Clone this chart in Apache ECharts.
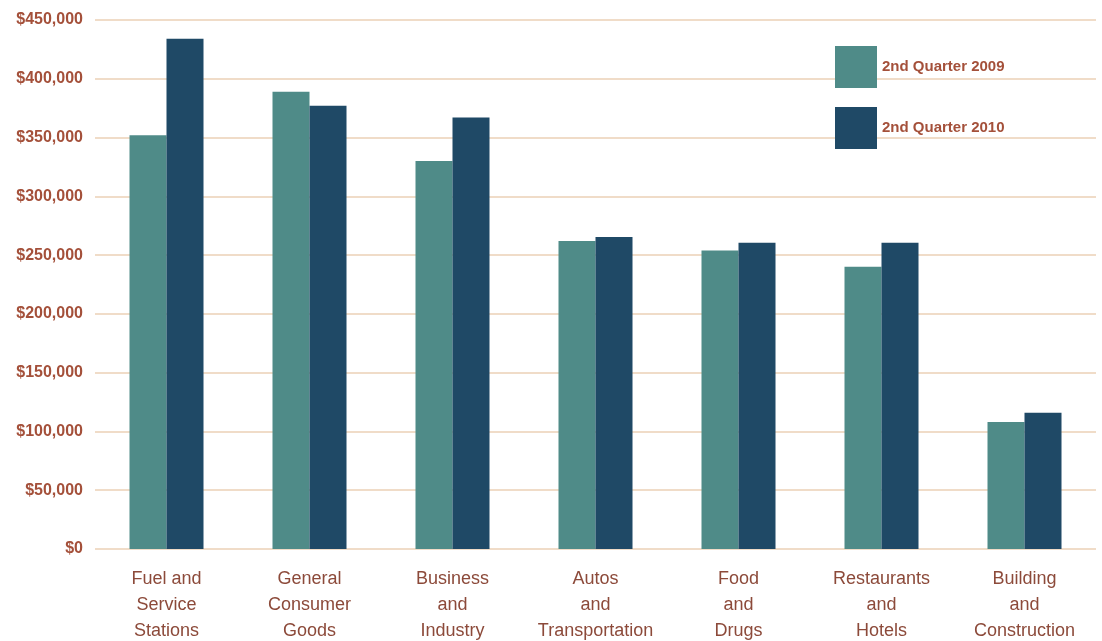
<!DOCTYPE html>
<html>
<head>
<meta charset="utf-8">
<script src="https://cdn.jsdelivr.net/npm/echarts@6/dist/echarts.min.js"></script>
<style>html,body{margin:0;padding:0;background:#fff;}#c{width:1102px;height:641px;}</style>
</head>
<body>
<div id="c"></div>
<script>
const categories = ["Fuel and\nService\nStations", "General\nConsumer\nGoods", "Business\nand\nIndustry", "Autos\nand\nTransportation", "Food\nand\nDrugs", "Restaurants\nand\nHotels", "Building\nand\nConstruction"];
const seriesNames = ["2nd Quarter 2009", "2nd Quarter 2010"];
const q2009 = [352000, 389000, 330000, 262000, 254000, 240000, 108000];
const q2010 = [434000, 377000, 367000, 265500, 260500, 260500, 116000];

const chart = echarts.init(document.getElementById('c'), null, {renderer: 'canvas'});
chart.setOption({
  backgroundColor: '#ffffff',
  animation: false,
  grid: {left: 95, right: 6, top: 20, bottom: 92, containLabel: false, outerBoundsMode: 'none'},
  legend: {
    orient: 'vertical', left: 830, top: 41, itemWidth: 42, itemHeight: 42, itemGap: 19,
    icon: 'rect',
    textStyle: {color: '#a4503a', fontWeight: 'bold', fontSize: 15, fontFamily: 'Liberation Sans, Arial, sans-serif'},
    data: seriesNames
  },
  xAxis: {
    type: 'category', data: categories,
    axisLine: {show: false}, axisTick: {show: false},
    axisLabel: {color: '#8c4a3a', fontSize: 18, lineHeight: 26, margin: 17, interval: 0, fontFamily: 'Liberation Sans, Arial, sans-serif'}
  },
  yAxis: {
    type: 'value', min: 0, max: 450000, interval: 50000,
    axisLine: {show: false}, axisTick: {show: false},
    splitLine: {lineStyle: {color: '#f0dcc8', width: 2}},
    axisLabel: {
      color: '#a4503a', fontWeight: 'bold', fontSize: 16, margin: 12,
      fontFamily: 'Liberation Sans, Arial, sans-serif',
      formatter: v => '$' + v.toLocaleString('en-US')
    }
  },
  series: [
    {name: seriesNames[0], type: 'bar', data: q2009, barWidth: 37, barGap: '0%', itemStyle: {color: '#4f8b88'}},
    {name: seriesNames[1], type: 'bar', data: q2010, barWidth: 37, barGap: '0%', itemStyle: {color: '#1f4966'}}
  ]
});
</script>
</body>
</html>
